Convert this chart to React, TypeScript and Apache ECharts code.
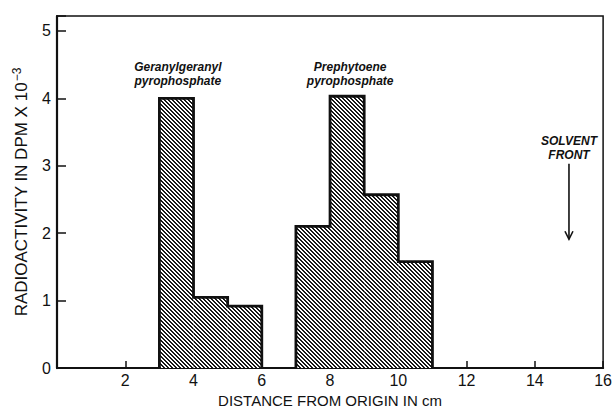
import React, { useEffect, useRef } from "react";
import * as echarts from "echarts";

// Histogram bins (distance from origin, cm) and radioactivity (DPM x 10^-3)
const binStart = [3, 4, 5, 7, 8, 9, 10];
const binEnd = [4, 5, 6, 8, 9, 10, 11];
const activity = [4.0, 1.05, 0.92, 2.1, 4.03, 2.57, 1.58];

const xTicks = [0, 2, 4, 6, 8, 10, 12, 14, 16];
const yTicks = [0, 1, 2, 3, 4, 5];

const peakLabels = ["Geranylgeranyl\npyrophosphate", "Prephytoene\npyrophosphate"];
const peakLabelX = [3.54, 8.59];
const peakLabelY = 4.36;
const solventText = "SOLVENT\nFRONT";
const solventX = 15;
const solventTextY = 3.27;
const solventArrow = [3.03, 1.91];

const FONT = '"Liberation Sans", Arial, sans-serif';

function makeHatch(): HTMLCanvasElement {
  const c = document.createElement("canvas");
  const n = 4;
  c.width = n;
  c.height = n;
  const ctx = c.getContext("2d")!;
  const img = ctx.createImageData(n, n);
  for (let y = 0; y < n; y++) {
    for (let x = 0; x < n; x++) {
      const k = (((x - y) % n) + n) % n;
      const dark = k === 0 || k === 1;
      const i = (y * n + x) * 4;
      const v = dark ? 25 : 255;
      img.data[i] = v;
      img.data[i + 1] = v;
      img.data[i + 2] = v;
      img.data[i + 3] = 255;
    }
  }
  ctx.putImageData(img, 0, 0);
  return c;
}

function outlinePoints(): (number[] | null)[] {
  const pts: (number[] | null)[] = [];
  for (let i = 0; i < binStart.length; i++) {
    const newGroup = i === 0 || binEnd[i - 1] !== binStart[i];
    if (newGroup) {
      if (i > 0) {
        pts.push([binEnd[i - 1], 0]);
        pts.push(null);
      }
      pts.push([binStart[i], 0]);
    }
    pts.push([binStart[i], activity[i]]);
    pts.push([binEnd[i], activity[i]]);
  }
  pts.push([binEnd[binEnd.length - 1], 0]);
  return pts;
}

export default function App() {
  const ref = useRef<HTMLDivElement>(null);
  useEffect(() => {
    if (!ref.current) return;
    document.body.style.margin = "0";
    const chart = echarts.init(ref.current, undefined, { renderer: "svg" });
    const hatch = makeHatch();
    const barData = binStart.map((s, i) => [s, binEnd[i], activity[i]]);
    chart.setOption({
      animation: false,
      backgroundColor: "#fff",
      grid: {
        left: 57,
        right: 7,
        top: 16,
        bottom: 37,
        show: true,
        borderColor: "#111",
        borderWidth: 1.5,
        backgroundColor: "transparent",
      },
      xAxis: {
        type: "value",
        min: 0,
        max: 16,
        interval: 2,
        name: "DISTANCE FROM ORIGIN IN cm",
        nameLocation: "middle",
        nameGap: 20,
        nameTextStyle: { fontFamily: FONT, fontSize: 15, color: "#111" },
        axisLine: { show: true, lineStyle: { color: "#111", width: 2.2 } },
        axisTick: { show: true, inside: true, length: 7, lineStyle: { color: "#111", width: 1.5 } },
        axisLabel: {
          fontFamily: FONT,
          fontSize: 16,
          color: "#111",
          margin: 4,
          formatter: (v: number) => (v === 0 || !xTicks.includes(v) ? "" : String(v)),
        },
        splitLine: { show: false },
      },
      yAxis: {
        type: "value",
        min: 0,
        max: 5.22,
        interval: 1,
        name: "RADIOACTIVITY IN DPM X 10{sup|−3}",
        nameLocation: "middle",
        nameGap: 26,
        nameTextStyle: {
          fontFamily: FONT,
          fontSize: 17,
          color: "#111",
          rich: {
            sup: { fontFamily: FONT, fontSize: 12, color: "#111", verticalAlign: "top", padding: [0, 0, 8, 1] },
          },
        },
        axisLine: { show: true, lineStyle: { color: "#111", width: 2.2 } },
        axisTick: { show: true, inside: true, length: 9, lineStyle: { color: "#111", width: 1.5 } },
        axisLabel: {
          fontFamily: FONT,
          fontSize: 16,
          color: "#111",
          margin: 6,
          formatter: (v: number) => (yTicks.includes(v) ? String(v) : ""),
        },
        splitLine: { show: false },
      },
      series: [
        {
          type: "custom",
          data: barData,
          encode: { x: [0, 1], y: 2 },
          renderItem: (params: any, api: any) => {
            const p0 = api.coord([api.value(0), 0]);
            const p1 = api.coord([api.value(1), api.value(2)]);
            return {
              type: "rect",
              shape: { x: p0[0], y: p1[1], width: p1[0] - p0[0], height: p0[1] - p1[1] },
              style: { fill: { image: hatch, repeat: "repeat" }, stroke: null },
            };
          },
          z: 2,
        },
        {
          type: "line",
          data: outlinePoints(),
          connectNulls: false,
          symbol: "none",
          lineStyle: { color: "#111", width: 2.8, join: "miter" },
          z: 3,
        },
      ],
    });

    const graphic: any[] = [];
    const textStyle = {
      align: "center",
      verticalAlign: "middle",
      fontFamily: FONT,
      fontStyle: "italic",
      fontWeight: "bold",
      fontSize: 12,
      lineHeight: 14,
      fill: "#111",
    };
    peakLabels.forEach((t, i) => {
      const p = chart.convertToPixel({ gridIndex: 0 }, [peakLabelX[i], peakLabelY]) as number[];
      graphic.push({ type: "text", x: p[0], y: p[1], style: { ...textStyle, text: t } });
    });
    const ps = chart.convertToPixel({ gridIndex: 0 }, [solventX, solventTextY]) as number[];
    graphic.push({ type: "text", x: ps[0], y: ps[1], style: { ...textStyle, text: solventText } });
    const a0 = chart.convertToPixel({ gridIndex: 0 }, [solventX, solventArrow[0]]) as number[];
    const a1 = chart.convertToPixel({ gridIndex: 0 }, [solventX, solventArrow[1]]) as number[];
    graphic.push({
      type: "line",
      shape: { x1: a0[0], y1: a0[1], x2: a1[0], y2: a1[1] },
      style: { stroke: "#111", lineWidth: 1.6 },
    });
    graphic.push({
      type: "polyline",
      shape: { points: [[a1[0] - 4, a1[1] - 8], [a1[0], a1[1]], [a1[0] + 4, a1[1] - 8]] },
      style: { stroke: "#111", lineWidth: 1.6, fill: null },
    });
    chart.setOption({ graphic });

    return () => chart.dispose();
  }, []);
  return <div ref={ref} style={{ width: 615, height: 413 }} />;
}
